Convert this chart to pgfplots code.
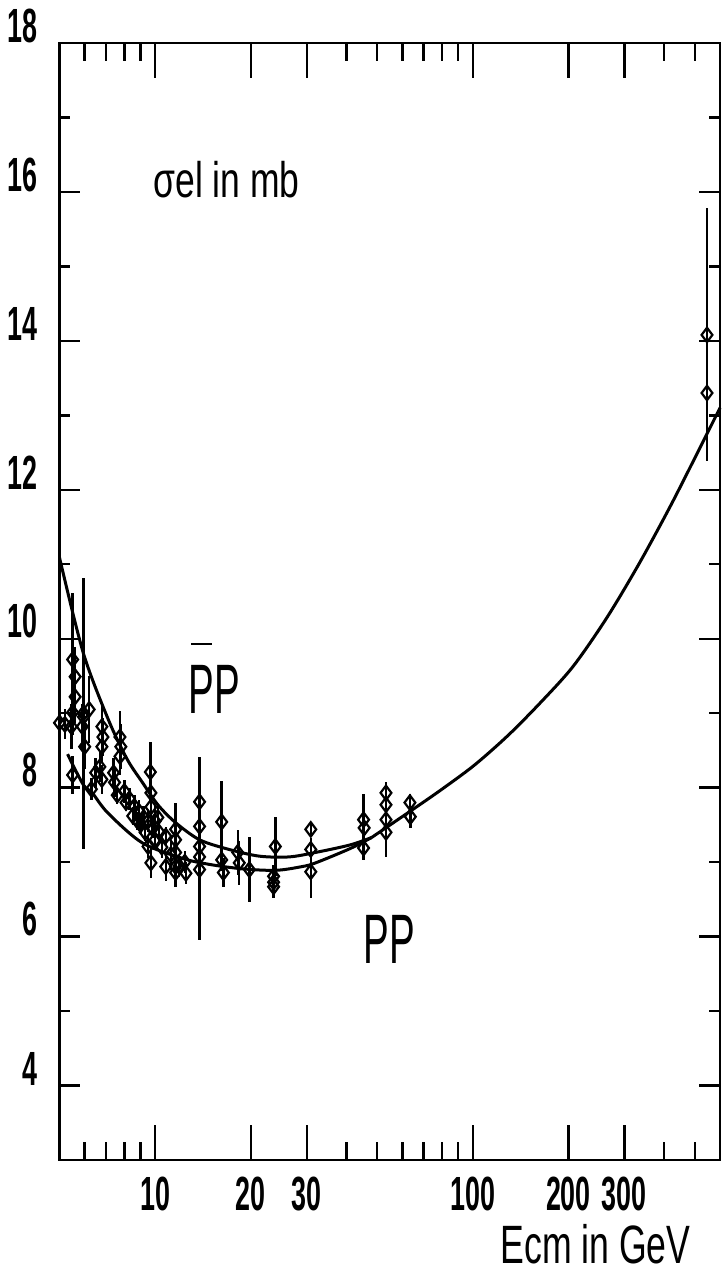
\documentclass[border=0pt]{standalone}
\usepackage{fontspec}
\setmainfont{Liberation Sans}
\usepackage{graphicx}
\usepackage{pgfplots}
\usepackage{pgfplotstable}
\pgfplotsset{compat=1.18}

% condensed plotter-style lettering
\newcommand{\nar}[1]{\scalebox{0.56}[1]{#1}}
\newcommand{\tickfont}{\fontsize{24}{24}\selectfont\bfseries}

% measured elastic cross sections: Ecm (GeV), sigma_el (mb), error (mb)
\pgfplotstableread{
E s e
5.0 8.87 0.25
5.2 8.85 0.20
5.5 8.17 0.25
5.5 9.72 0.90
5.6 9.49 0.40
5.6 9.22 0.35
5.5 9.01 0.30
5.45 8.82 0.30
5.95 8.95 0.45
5.9 8.82 0.30
5.95 9.00 1.82
6.0 8.55 0.30
6.2 9.05 0.45
6.8 8.82 0.30
6.85 8.68 0.25
6.8 8.55 0.20
7.75 8.68 0.35
7.8 8.55 0.30
7.75 8.42 0.25
6.5 8.20 0.20
6.7 8.28 0.20
6.8 8.11 0.20
7.4 8.20 0.20
7.45 8.07 0.20
6.3 7.98 0.15
7.6 7.90 0.12
8.0 7.95 0.15
8.1 7.80 0.12
8.3 7.85 0.15
8.6 7.75 0.15
8.8 7.55 0.12
8.9 7.68 0.15
9.2 7.60 0.15
9.3 7.40 0.12
9.5 7.55 0.15
8.5 7.62 0.12
9.0 7.50 0.12
9.8 7.45 0.12
10.0 7.30 0.12
10.0 7.55 0.20
10.2 7.60 0.15
10.3 7.40 0.12
10.8 7.35 0.12
9.66 8.21 0.40
9.7 7.93 0.20
9.7 7.74 0.20
9.7 6.99 0.20
9.5 7.21 0.15
10.8 6.94 0.20
11.6 7.44 0.35
11.6 7.30 0.20
11.6 7.13 0.20
11.6 6.94 0.20
11.6 6.86 0.20
11.2 7.10 0.20
10.5 7.20 0.15
11.9 6.95 0.15
12.4 7.00 0.15
12.5 6.85 0.15
13.8 7.81 0.60
13.8 6.90 0.95
13.8 7.48 0.20
13.8 7.21 0.20
13.8 7.07 0.20
16.2 7.54 0.55
16.2 7.03 0.15
16.4 6.86 0.20
18.2 7.13 0.30
18.4 6.99 0.30
19.8 6.90 0.44
23.9 7.21 0.40
23.6 6.81 0.15
23.6 6.73 0.15
23.6 6.67 0.15
30.9 7.44 0.10
30.9 7.17 0.15
30.9 6.87 0.35
45.3 7.57 0.35
45.5 7.46 0.15
45.3 7.19 0.16
53.3 7.93 0.14
53.3 7.77 0.20
53.3 7.57 0.20
53.3 7.40 0.33
63.4 7.80 0.12
63.6 7.61 0.15
546 14.08 1.70
546 13.30 0.90
}\measured

% fitted curves
\pgfplotstableread{
E s
5.0 11.09
5.94 9.81
7.13 8.91
8.17 8.38
9.12 8.07
10.2 7.77
11.6 7.53
13.8 7.30
17.1 7.17
21.3 7.08
26.4 7.07
32.0 7.13
41.0 7.23
48.0 7.33
}\pbarp

\pgfplotstableread{
E s
5.3 8.45
5.94 8.04
6.34 7.93
7.1 7.66
9.1 7.26
12.2 7.05
14.8 6.97
18.8 6.91
24.0 6.89
29.0 6.94
32.0 6.99
41.0 7.18
48.0 7.33
}\pp

\pgfplotstableread{
E s
48.0 7.33
65.9 7.73
80 7.98
101 8.30
129 8.70
164 9.15
207 9.63
264 10.28
334 11.01
421 11.80
534 12.67
600 13.10
}\common

\begin{document}
\begin{tikzpicture}
\useasboundingbox (0,0) rectangle (363.5pt,639pt);
\begin{axis}[
  at={(29.75pt,59pt)}, anchor=south west,
  scale only axis, width=330.25pt, height=558.5pt,
  xmode=log, xmin=5, xmax=600, ymin=3, ymax=18,
  clip=false,
  axis line style={line width=1.4pt},
  tick align=inside,
  every tick/.style={black, line width=1.2pt},
  xtick={10,100}, xticklabels={\nar{10},\nar{100}},
  extra x ticks={20,30,200,300},
  extra x tick labels={\nar{20},\nar{30},\nar{200},\nar{300}},
  extra x tick style={/pgfplots/major tick length=9pt},
  minor xtick={6,7,8,9,40,50,60,70,80,90,400,500},
  major x tick style={/pgfplots/major tick length=17.5pt},
  minor x tick style={/pgfplots/minor tick length=9pt},
  ytick={4,6,...,18},
  yticklabels={\nar{4},\nar{6},\nar{8},\nar{10},\nar{12},\nar{14},\nar{16},\nar{18}},
  minor ytick={5,7,...,17},
  major y tick style={/pgfplots/major tick length=10.5pt},
  minor y tick style={/pgfplots/minor tick length=5.5pt},
  xticklabel style={font=\tickfont, inner sep=0pt, anchor=north, yshift=-8.5pt},
  yticklabel style={font=\tickfont, inner sep=0pt, anchor=south east, xshift=-11pt},
]
\addplot[black, line width=1.5pt, smooth] table[x=E, y=s] {\pbarp};
\addplot[black, line width=1.5pt, smooth] table[x=E, y=s] {\pp};
\addplot[black, line width=1.5pt, smooth] table[x=E, y=s] {\common};
\addplot[black, only marks, mark=diamond, mark size=3.6pt,
  mark options={line width=1.1pt},
  error bars/.cd, y dir=both, y explicit, error mark=none,
  error bar style={line width=1.2pt}]
  table[x=E, y=s, y error=e] {\measured};

\node[anchor=base west, inner sep=0pt, font=\fontsize{25}{25}\selectfont]
  at (axis description cs:0.1416,0.862) {\scalebox{0.71}[1]{σel in mb}};
\node[anchor=base west, inner sep=0pt, font=\fontsize{35}{35}\selectfont]
  at (axis description cs:0.1945,0.400)
  {\rlap{\hspace{1.5pt}\raisebox{34pt}{\rule{10.5pt}{1.1pt}}}\scalebox{0.55}[1]{PP}};
\node[anchor=base west, inner sep=0pt, font=\fontsize{35}{35}\selectfont]
  at (axis description cs:0.4595,0.176) {\scalebox{0.55}[1]{PP}};
\node[anchor=base west, inner sep=0pt, font=\fontsize{27}{27}\selectfont]
  at (axis description cs:0.667,-0.093) {\scalebox{0.66}[1]{Ecm in GeV}};
\end{axis}
\end{tikzpicture}
\end{document}
